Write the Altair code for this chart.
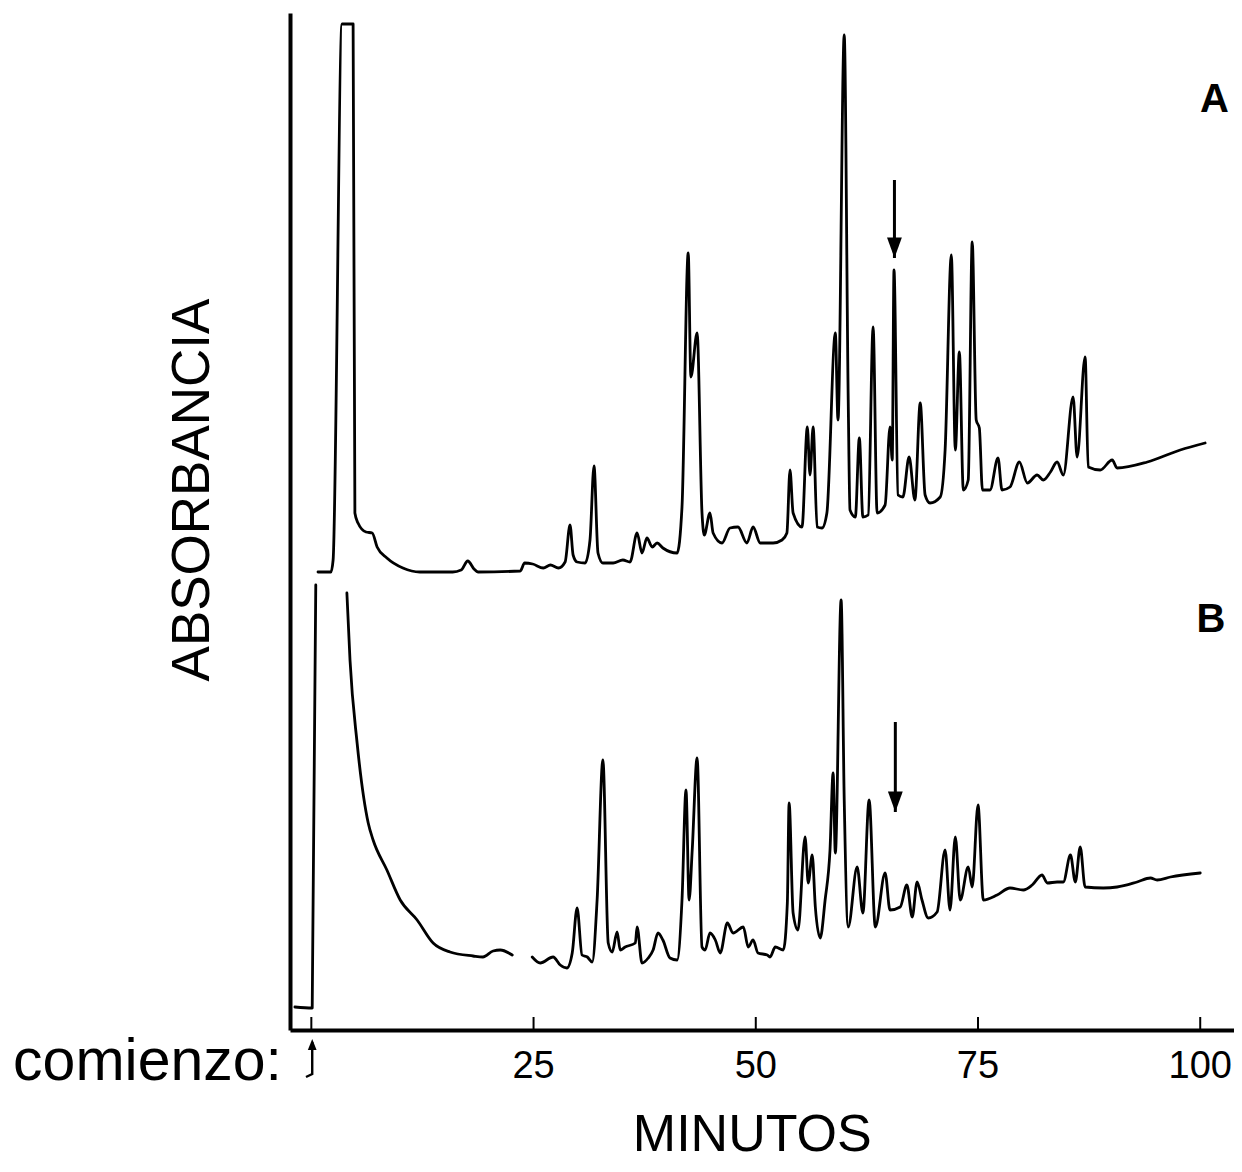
import altair as alt
import pandas as pd

# ---- trace A (upper chromatogram): minutes, absorbance (arbitrary units) ----
A_time = [0.75, 2.2, 2.45, 3.45, 4.7, 4.9, 5.25, 6.15, 6.85, 7.4,
          8.5, 10.3, 12.2, 15.9, 16.85, 17.6, 18.3, 18.75, 23.5, 24.0,
          24.9, 26.1, 26.9, 27.8, 28.55, 29.1, 29.45, 29.9, 30.8, 31.35,
          31.8, 32.25, 32.8, 33.95, 35.05, 35.85, 36.65, 37.2, 37.75, 38.35,
          38.9, 39.55, 41.15, 41.7, 42.4, 42.7, 43.4, 43.95, 44.2, 44.85,
          45.2, 46.2, 47.1, 48.0, 49.0, 49.7, 50.5, 51.95, 52.95, 53.5,
          53.85, 54.2, 55.2, 55.8, 56.1, 56.45, 56.9, 57.45, 58.0, 58.95,
          59.25, 59.95, 60.4, 60.6, 61.2, 61.65, 62.05, 62.65, 63.2, 63.65,
          64.55, 65.1, 65.35, 65.55, 66.0, 66.55, 67.25, 67.9, 68.5, 69.05,
          69.6, 70.75, 71.3, 72.0, 72.45, 72.9, 73.35, 73.9, 74.35, 74.8,
          75.15, 75.5, 76.35, 77.25, 77.7, 78.6, 79.65, 80.55, 81.65, 82.35,
          83.15, 83.9, 84.6, 85.7, 86.15, 87.05, 87.4, 88.75, 90.1, 90.65,
          94.05, 97.75, 100.55]
A_abs = [458, 458, 470, 1006, 1006, 517, 507, 498, 497, 483,
         472, 462, 458, 458, 460, 469, 461, 458, 459, 467,
         466, 462, 465, 462, 468, 505, 475, 468, 467, 490,
         564, 477, 467, 467, 470, 468, 497, 477, 492, 483,
         487, 482, 477, 523, 777, 653, 697, 517, 495, 517,
         497, 487, 502, 503, 487, 503, 487, 487, 490, 497,
         560, 517, 503, 603, 555, 603, 503, 502, 517, 697,
         610, 995, 630, 520, 513, 592, 513, 515, 703, 517,
         525, 603, 570, 760, 535, 533, 573, 530, 627, 535,
         527, 533, 580, 775, 580, 678, 540, 550, 788, 610,
         602, 540, 540, 572, 540, 543, 568, 547, 555, 550,
         558, 568, 555, 633, 573, 673, 563, 560, 570, 562,
         568, 580, 587]

# ---- trace B (lower chromatogram), drawn in three pieces ----
B_front_time = [-1.85, 0.1, 0.5]
B_front_abs = [23, 22, 445]

B_tail_time = [4.0, 4.35, 5.15, 6.4, 6.95, 8.5, 10.0, 11.9, 13.7, 15.6,
               18.2, 19.3, 20.45, 21.25, 22.6]
B_tail_abs = [437, 370, 287, 207, 190, 160, 130, 110, 87, 78,
              74, 73, 79, 80, 75]

B_main_time = [24.85, 25.75, 27.2, 28.0, 28.75, 29.35, 29.9, 30.45, 31.05, 31.6,
               32.15, 32.8, 33.4, 33.85, 34.4, 34.75, 35.3, 36.45, 36.65, 37.2,
               37.9, 38.45, 39.0, 39.55, 40.35, 41.15, 41.7, 42.15, 42.5, 42.85,
               43.4, 43.95, 44.3, 44.85, 45.45, 46.0, 46.8, 47.45, 48.6, 49.15,
               49.7, 50.25, 51.3, 51.6, 52.2, 53.1, 53.55, 53.75, 54.2, 54.75,
               55.55, 55.9, 56.35, 56.7, 57.25, 57.8, 58.35, 58.7, 58.95, 59.6,
               59.95, 60.4, 61.4, 62.05, 62.75, 63.45, 64.55, 65.1, 66.25, 67.0,
               67.6, 68.15, 68.7, 69.4, 70.4, 71.3, 71.85, 72.45, 73.0, 73.9,
               74.35, 75.0, 75.6, 77.15, 78.6, 80.1, 81.1, 82.2, 82.8, 83.9,
               84.6, 85.4, 85.95, 86.5, 87.05, 89.1, 90.65, 92.9, 94.4, 95.15,
               96.65, 100.0]
B_main_abs = [73, 67, 73, 65, 62, 77, 122, 75, 73, 68,
              130, 270, 87, 78, 98, 80, 83, 87, 103, 67,
              72, 80, 97, 90, 72, 70, 130, 240, 130, 180,
              272, 83, 80, 97, 90, 77, 107, 97, 103, 83,
              90, 77, 75, 73, 83, 80, 127, 227, 117, 100,
              193, 147, 175, 123, 92, 130, 180, 257, 177, 430,
              230, 103, 163, 117, 230, 103, 157, 120, 123, 145,
              113, 148, 130, 112, 118, 180, 120, 193, 130, 163,
              143, 225, 130, 135, 142, 140, 145, 155, 147, 148,
              148, 175, 148, 183, 143, 142, 143, 148, 152, 150,
              153, 157]

# ---- axis ticks / labels ----
tick_minutes = [0, 25, 50, 75, 100]
label_minutes = [25, 50, 75, 100]
label_texts = ["25", "50", "75", "100"]

# ---- marker arrows (peak of interest) ----
arrow_time = [65.6, 65.7]
arrow_top = [850, 308]
arrow_tip = [772, 218]

# ---- "comienzo" start arrow ----
start_time = [-0.6, 0.1, 0.1]
start_abs = [-47, -44, -12]

# ---- trace panel letters ----
panel_letters = ["A", "B"]
panel_time = [101.6, 101.2]
panel_abs = [930, 410]


def piece(name, t, v):
    return pd.DataFrame({"t": t, "v": v, "seg": name, "i": list(range(len(t)))})


traces = pd.concat([
    piece("A", A_time, A_abs),
    piece("B1", B_front_time, B_front_abs),
    piece("B2", B_tail_time, B_tail_abs),
    piece("B3", B_main_time, B_main_abs),
], ignore_index=True)

xscale = alt.Scale(domain=[-2.4, 103.8], nice=False, zero=False)
yscale = alt.Scale(domain=[0, 1017], nice=False, zero=False)

lines = alt.Chart(traces).mark_line(
    color="black", strokeWidth=2.8, strokeJoin="round", strokeCap="round",
    interpolate="monotone"
).encode(
    x=alt.X("t:Q", scale=xscale,
            axis=alt.Axis(domainWidth=4, domainColor="black", ticks=False,
                          labels=False, grid=False, title=None)),
    y=alt.Y("v:Q", scale=yscale,
            axis=alt.Axis(domainWidth=4, domainColor="black", ticks=False,
                          labels=False, grid=False, title=None)),
    detail="seg:N",
    order="i:Q",
)

ticks_df = pd.DataFrame({"t": tick_minutes, "v": [0] * len(tick_minutes),
                         "v2": [13] * len(tick_minutes)})
ticks = alt.Chart(ticks_df).mark_rule(color="black", strokeWidth=2).encode(
    x="t:Q", y="v:Q", y2="v2:Q")

labels_df = pd.DataFrame({"t": label_minutes, "v": [-48] * len(label_minutes),
                          "txt": label_texts})
tick_labels = alt.Chart(labels_df).mark_text(
    font="Liberation Sans", fontSize=38, baseline="alphabetic", align="center",
    color="black"
).encode(x="t:Q", y="v:Q", text="txt:N")

arrows_df = pd.DataFrame({"t": arrow_time, "v": arrow_top, "v2": arrow_tip})
arrow_shafts = alt.Chart(arrows_df).mark_rule(color="black", strokeWidth=3).encode(
    x="t:Q", y="v:Q", y2="v2:Q")
heads_df = pd.DataFrame({"t": arrow_time, "v": arrow_tip})
arrow_heads = alt.Chart(heads_df).mark_point(
    shape="M-0.36,-1L0.36,-1L0,0Z", filled=True, size=1700, color="black",
    opacity=1, strokeWidth=0
).encode(x="t:Q", y="v:Q")

start_df = pd.DataFrame({"t": start_time, "v": start_abs, "i": [0, 1, 2]})
start_line = alt.Chart(start_df).mark_line(color="black", strokeWidth=2.4).encode(
    x="t:Q", y="v:Q", order="i:Q")
start_head_df = pd.DataFrame({"t": [start_time[-1]], "v": [-9]})
start_head = alt.Chart(start_head_df).mark_point(
    shape="M-0.4,1L0.4,1L0,0Z", filled=True, size=480, color="black",
    opacity=1, strokeWidth=0
).encode(x="t:Q", y="v:Q")

comienzo_df = pd.DataFrame({"t": [-3.3], "v": [-50], "txt": ["comienzo:"]})
comienzo = alt.Chart(comienzo_df).mark_text(
    font="Liberation Sans", fontSize=59, align="right", baseline="alphabetic",
    color="black"
).encode(x="t:Q", y="v:Q", text="txt:N")

minutos_df = pd.DataFrame({"t": [49.6], "v": [-121], "txt": ["MINUTOS"]})
minutos = alt.Chart(minutos_df).mark_text(
    font="Liberation Sans", fontSize=52, align="center", baseline="alphabetic",
    color="black"
).encode(x="t:Q", y="v:Q", text="txt:N")

absor_df = pd.DataFrame({"t": [-13.3], "v": [540], "txt": ["ABSORBANCIA"]})
absor = alt.Chart(absor_df).mark_text(
    font="Liberation Sans", fontSize=53, align="center", baseline="middle",
    angle=270, color="black"
).encode(x="t:Q", y="v:Q", text="txt:N")

panel_df = pd.DataFrame({"t": panel_time, "v": panel_abs, "txt": panel_letters})
panels = alt.Chart(panel_df).mark_text(
    font="Liberation Sans", fontSize=40, fontWeight="bold", align="center",
    baseline="middle", color="black"
).encode(x="t:Q", y="v:Q", text="txt:N")

chart = alt.layer(
    lines, ticks, tick_labels, arrow_shafts, arrow_heads, start_line,
    start_head, comienzo, minutos, absor, panels
).properties(
    width=944, height=1017,
    autosize=alt.AutoSizeParams(type="none"),
    padding={"left": 282, "top": 5, "right": 0, "bottom": 134},
    background="white",
).configure_view(stroke=None)

chart.save("out.html", embed_options={"renderer": "svg", "actions": False})
